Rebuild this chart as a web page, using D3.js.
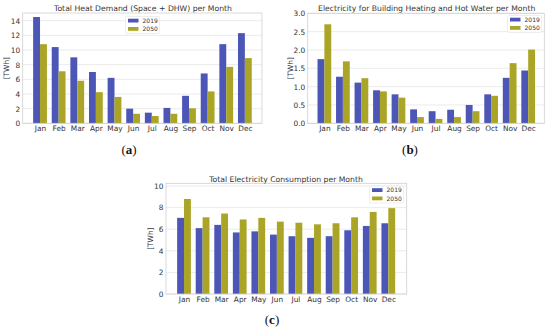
<!DOCTYPE html>
<html><head><meta charset="utf-8">
<script src="https://cdn.jsdelivr.net/npm/d3@7"></script>
<style>body{margin:0;background:#fff}svg{display:block}</style>
</head><body>
<script>
const months = ["Jan","Feb","Mar","Apr","May","Jun","Jul","Aug","Sep","Oct","Nov","Dec"];
const seriesNames = ["2019","2050"];
const heat2019 = [14.5,10.4,9.0,7.0,6.2,2.0,1.45,2.1,3.75,6.8,10.8,12.3];
const heat2050 = [10.8,7.1,5.8,4.25,3.6,1.3,1.0,1.3,2.05,4.35,7.7,8.9];
const elecHeat2019 = [1.75,1.27,1.11,0.90,0.79,0.38,0.33,0.37,0.50,0.79,1.24,1.44];
const elecHeat2050 = [2.70,1.69,1.23,0.87,0.70,0.17,0.12,0.17,0.33,0.75,1.64,2.01];
const elecTotal2019 = [7.05,6.1,6.4,5.7,5.8,5.5,5.35,5.2,5.35,5.9,6.3,6.55];
const elecTotal2050 = [8.8,7.1,7.45,6.9,7.05,6.7,6.6,6.45,6.55,7.1,7.6,7.95];
const heatTicks = [0,2,4,6,8,10,12,14];
const elecHeatTicks = [0.0,0.5,1.0,1.5,2.0,2.5,3.0];
const elecTotalTicks = [0,2,4,6,8,10];

const colors = ["#4c56b6","#aaa526"];
const svg = d3.select("body").append("svg").attr("width",550).attr("height",330);
const font = "DejaVu Sans, sans-serif";

function panel(o){
  const g = svg.append("g");
  const x = d3.scaleLinear().domain(o.xdom).range([o.x0,o.x1]);
  const y = d3.scaleLinear().domain([0,o.ymax]).range([o.y1,o.y0]);
  const bw = 0.37;
  g.selectAll("line.grid").data(o.ticks).join("line")
    .attr("x1",o.x0).attr("x2",o.x1).attr("y1",d=>y(d)).attr("y2",d=>y(d))
    .attr("stroke","#e6e6e6").attr("stroke-width",0.8);
  [o.a,o.b].forEach((vals,si)=>{
    g.selectAll(null).data(vals).join("rect")
      .attr("x",(d,i)=>x(i + (si===0 ? -bw : 0)))
      .attr("width",x(bw)-x(0))
      .attr("y",d=>y(d)).attr("height",d=>y(0)-y(d))
      .attr("fill",colors[si]);
  });
  g.append("rect").attr("x",o.x0).attr("y",o.y0).attr("width",o.x1-o.x0).attr("height",o.y1-o.y0)
    .attr("fill","none").attr("stroke","#cfcfcf").attr("stroke-width",0.8);
  const ya = d3.axisLeft(y).tickValues(o.ticks).tickFormat(o.fmt).tickSize(0).tickPadding(2.5);
  const yg = g.append("g").attr("transform",`translate(${o.x0},0)`).call(ya);
  yg.select(".domain").remove();
  yg.selectAll("text").attr("font-family",font).attr("font-size",7.4).attr("fill","#333");
  const xa = d3.axisBottom(x).tickValues(d3.range(12)).tickFormat(i=>months[i]).tickSize(0).tickPadding(2.5);
  const xg = g.append("g").attr("transform",`translate(0,${o.y1})`).call(xa);
  xg.select(".domain").remove();
  xg.selectAll("text").attr("font-family",font).attr("font-size",7.4).attr("fill","#333");
  g.append("text").attr("transform",`translate(${o.ylx},${(o.y0+o.y1)/2}) rotate(-90)`)
    .attr("text-anchor","middle").attr("dy","0.35em").attr("font-family",font).attr("font-size",7.4).attr("fill","#333").text("[TWh]");
  g.append("text").attr("x",o.tx).attr("y",o.ty).attr("text-anchor","middle")
    .attr("font-family",font).attr("font-size",7.7).attr("fill","#333").text(o.title);
  const lg = g.append("g").attr("transform",`translate(${o.lx},${o.ly})`);
  lg.append("rect").attr("x",0).attr("y",0).attr("width",34).attr("height",17)
    .attr("fill","#fff").attr("fill-opacity",0.8).attr("stroke","#e2e2e2").attr("stroke-width",0.6).attr("rx",1.5);
  seriesNames.forEach((s,i)=>{
    lg.append("rect").attr("x",2.5).attr("y",2.2+i*8.3).attr("width",10.5).attr("height",3.8).attr("fill",colors[i]);
    lg.append("text").attr("x",17).attr("y",4.2+i*8.3).attr("dy","0.35em")
      .attr("font-family",font).attr("font-size",6).attr("fill","#333").text(s);
  });
  svg.append("text").attr("x",o.cx).attr("y",o.cy).attr("text-anchor","middle")
    .attr("font-family","Liberation Serif, serif").attr("font-size",13).attr("fill","#111")
    .html(`(<tspan font-weight="bold">${o.cap}</tspan>)`);
}

panel({x0:22.7,x1:262,y0:13,y1:123.3,xdom:[-0.93,11.92],ymax:15.05,ticks:heatTicks,fmt:d3.format("d"),
  a:heat2019,b:heat2050,title:"Total Heat Demand (Space + DHW) per Month",tx:143,ty:11.3,ylx:6,
  lx:125.5,ly:16.5,cx:129,cy:154,cap:"a"});
panel({x0:307.7,x1:544.3,y0:13.3,y1:123.3,xdom:[-0.9,11.87],ymax:3.0,ticks:elecHeatTicks,fmt:d3.format(".1f"),
  a:elecHeat2019,b:elecHeat2050,title:"Electricity for Building Heating and Hot Water per Month",tx:426.7,ty:11.3,ylx:290,
  lx:507.5,ly:15.5,cx:410,cy:154,cap:"b"});
panel({x0:166,x1:406.7,y0:183.3,y1:294,xdom:[-0.97,11.99],ymax:10.25,ticks:elecTotalTicks,fmt:d3.format("d"),
  a:elecTotal2019,b:elecTotal2050,title:"Total Electricity Consumption per Month",tx:286,ty:181.6,ylx:150,
  lx:369.5,ly:186,cx:272,cy:324,cap:"c"});
</script>
</body></html>
